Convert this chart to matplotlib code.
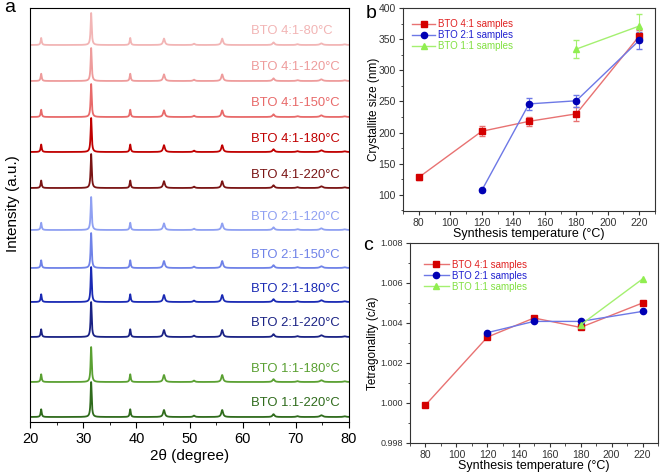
import numpy as np
import matplotlib
matplotlib.use('Agg')
import matplotlib.pyplot as plt
from matplotlib.ticker import MultipleLocator, AutoMinorLocator, FormatStrFormatter

plt.rcParams['font.family'] = ['Liberation Sans', 'DejaVu Sans']

###############################################################
# Data
###############################################################
# XRD: peak positions (2theta) and relative heights (main peak = 1)
peak_pos = [22.1, 31.5, 38.85, 45.2, 50.85, 56.15, 65.8, 70.3, 74.8, 79.2]
peak_height = [0.22, 1.0, 0.22, 0.2, 0.04, 0.2, 0.08, 0.025, 0.05, 0.02]
peak_width = [0.12, 0.12, 0.12, 0.2, 0.2, 0.2, 0.22, 0.25, 0.3, 0.3]

xrd_labels = ['BTO 4:1-80°C', 'BTO 4:1-120°C', 'BTO 4:1-150°C', 'BTO 4:1-180°C',
              'BTO 4:1-220°C', 'BTO 2:1-120°C', 'BTO 2:1-150°C', 'BTO 2:1-180°C',
              'BTO 2:1-220°C', 'BTO 1:1-180°C', 'BTO 1:1-220°C']
xrd_colors = ['#f2b5b5', '#ee9c9c', '#e86a6a', '#c00000', '#7a1414',
              '#8fa0f2', '#6f82e8', '#1a2ab4', '#1a2284', '#5aa032', '#2f6b1c']
xrd_scale = [32, 33, 33, 34, 34, 33, 35, 35, 35, 35, 35]
xrd_offset = [377, 341, 305, 270, 234, 192, 154, 120, 85, 40, 5]

# crystallite size
t_41 = [80, 120, 150, 180, 220]
size_41 = [128, 202, 218, 230, 355]
err_41 = [4, 8, 7, 11, 10]
t_21 = [120, 150, 180, 220]
size_21 = [107, 246, 251, 348]
err_21 = [2, 9, 10, 14]
t_11 = [180, 220]
size_11 = [334, 371]
err_11 = [15, 19]

# tetragonality
tet_41 = [0.99990, 1.00330, 1.00425, 1.00378, 1.00500]
tet_21 = [1.00352, 1.00408, 1.00408, 1.00458]
tet_11 = [1.00390, 1.00620]

W, H = 661, 474
fig = plt.figure(figsize=(W / 100, H / 100), dpi=100)

###############################################################
# panel a
###############################################################
ax_a = fig.add_axes([30 / W, (H - 422) / H, 319 / W, 414 / H])
x = np.linspace(20, 80, 3000)
for i in range(len(xrd_labels)):
    y = np.zeros_like(x)
    for p, h, w in zip(peak_pos, peak_height, peak_width):
        y += h / (1 + ((x - p) / w) ** 2)
    ax_a.plot(x, xrd_offset[i] + xrd_scale[i] * y, color=xrd_colors[i], lw=1.3)
    ax_a.text(61.6, xrd_offset[i] + 13.5, xrd_labels[i], color=xrd_colors[i],
              ha='left', va='center', fontsize=9.4)
ax_a.set_xlim(20, 80)
ax_a.set_ylim(0, 414)
ax_a.set_yticks([])
ax_a.xaxis.set_major_locator(MultipleLocator(10))
ax_a.xaxis.set_minor_locator(MultipleLocator(5))
ax_a.tick_params(axis='x', which='both', direction='out', labelsize=10.5)
ax_a.tick_params(axis='x', which='major', length=4)
ax_a.tick_params(axis='x', which='minor', length=2.5)
ax_a.set_xlabel('2θ (degree)', fontsize=11, labelpad=2)
ax_a.set_ylabel('Intensity (a.u.)', fontsize=11)
ax_a.yaxis.set_label_coords(-10 / 319, 0.527)
fig.text(10 / W, 1 - 8 / H, 'a', fontsize=14, ha='center', va='center')


def style_small(ax):
    for s in ax.spines.values():
        s.set_color('#333333')
        s.set_linewidth(0.8)
    ax.xaxis.set_major_locator(MultipleLocator(20))
    ax.xaxis.set_minor_locator(MultipleLocator(10))
    ax.yaxis.set_minor_locator(AutoMinorLocator(2))
    ax.tick_params(which='both', direction='out', labelsize=7.5, colors='#333333', pad=2)
    ax.tick_params(which='major', length=3)
    ax.tick_params(which='minor', length=1.8)
    ax.set_xlim(70, 230)
    ax.set_xlabel('Synthesis temperature (°C)', fontsize=9, labelpad=0)


red_l, red_m = '#e87272', '#d40000'
blue_l, blue_m = '#6d78e6', '#0000b4'
green_l, green_m = '#a4f070', '#90ee50'
leg_colors = ['#e02020', '#2020d0', '#80e040']

###############################################################
# panel b
###############################################################
ax_b = fig.add_axes([403 / W, (H - 211) / H, 252 / W, 203 / H])
e1 = ax_b.errorbar(t_41, size_41, yerr=err_41, color=red_l, mfc=red_m, mec=red_m,
                   marker='s', ms=4.5, lw=1, capsize=2, elinewidth=0.8)
e2 = ax_b.errorbar(t_21, size_21, yerr=err_21, color=blue_l, mfc=blue_m, mec=blue_m,
                   marker='o', ms=4.5, lw=1, capsize=2, elinewidth=0.8)
e3 = ax_b.errorbar(t_11, size_11, yerr=err_11, color=green_l, mfc=green_m, mec=green_m,
                   marker='^', ms=5, lw=1, capsize=2, elinewidth=0.8)
style_small(ax_b)
ax_b.set_ylim(74, 400)
ax_b.yaxis.set_major_locator(MultipleLocator(50))
ax_b.set_ylabel('Crystallite size (nm)', fontsize=8.5)
ax_b.yaxis.set_label_coords(-23 / 252, 0.5)
leg = ax_b.legend([e1[0], e2[0], e3[0]],
                  ['BTO 4:1 samples', 'BTO 2:1 samples', 'BTO 1:1 samples'],
                  loc='upper left', bbox_to_anchor=(0.02, 0.965), frameon=False,
                  fontsize=7, handlelength=2.4, handletextpad=0.3, labelspacing=0.1,
                  borderaxespad=0.0)
for t, c in zip(leg.get_texts(), leg_colors):
    t.set_color(c)
fig.text(371 / W, 1 - 14 / H, 'b', fontsize=14, ha='center', va='center')

###############################################################
# panel c
###############################################################
ax_c = fig.add_axes([410 / W, (H - 443) / H, 248 / W, 200 / H])
ax_c.plot(t_41, tet_41, color=red_l, mfc=red_m, mec=red_m, marker='s', ms=4.5, lw=1,
          label='BTO 4:1 samples')
ax_c.plot(t_21, tet_21, color=blue_l, mfc=blue_m, mec=blue_m, marker='o', ms=4.5, lw=1,
          label='BTO 2:1 samples')
ax_c.plot(t_11, tet_11, color=green_l, mfc=green_m, mec=green_m, marker='^', ms=5, lw=1,
          label='BTO 1:1 samples')
style_small(ax_c)
ax_c.set_ylim(0.998, 1.008)
ax_c.yaxis.set_major_locator(MultipleLocator(0.002))
ax_c.yaxis.set_major_formatter(FormatStrFormatter('%.3f'))
ax_c.tick_params(axis='y', labelsize=6.5)
ax_c.set_ylabel('Tetragonality (c/a)', fontsize=8.5)
ax_c.yaxis.set_label_coords(-31 / 248, 0.5)
leg = ax_c.legend(loc='upper left', bbox_to_anchor=(0.04, 0.935), frameon=False,
                  fontsize=7, handlelength=2.6, handletextpad=0.3, labelspacing=0.1,
                  borderaxespad=0.0)
for t, c in zip(leg.get_texts(), leg_colors):
    t.set_color(c)
fig.text(368 / W, 1 - 245 / H, 'c', fontsize=14, ha='center', va='center')

plt.savefig('out.png', dpi=100)
